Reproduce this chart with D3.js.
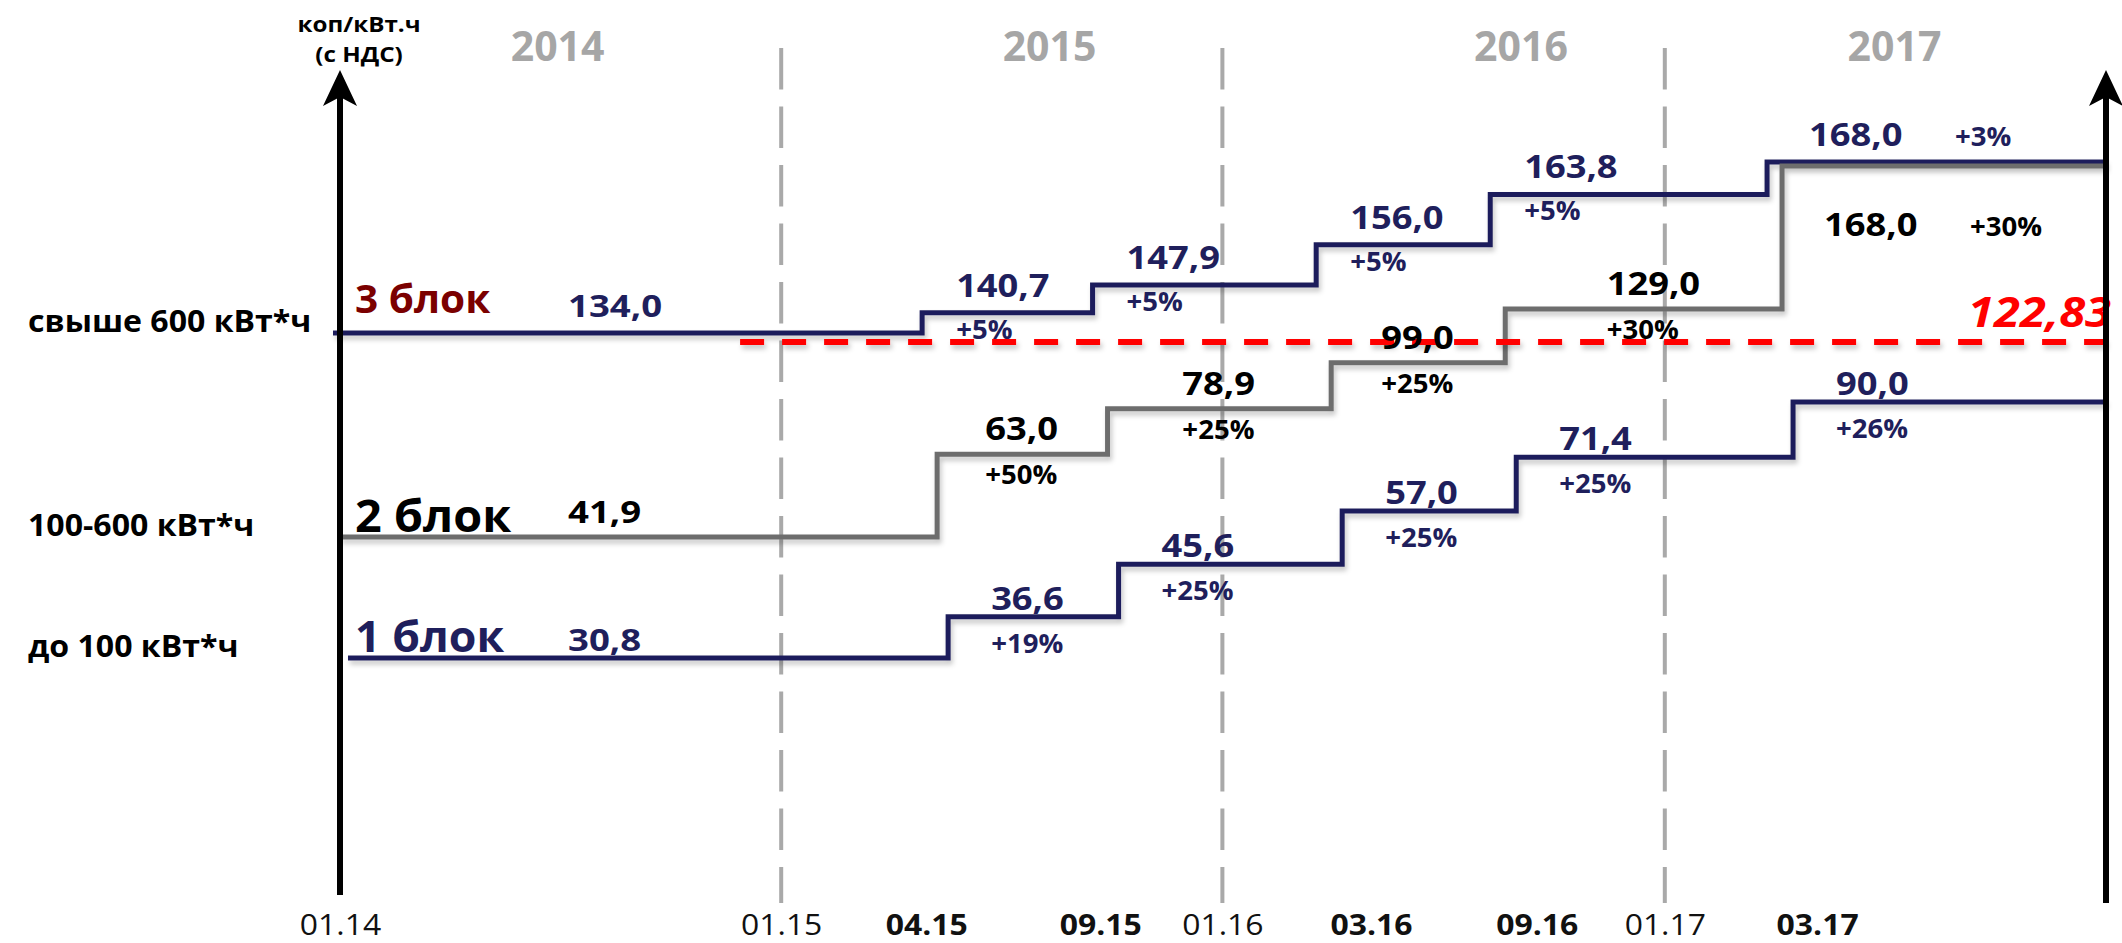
<!DOCTYPE html>
<html>
<head>
<meta charset="utf-8">
<script src="https://cdn.jsdelivr.net/npm/d3@7"></script>
<style>
  body { margin: 0; background: #fff; }
  svg { display: block; }
</style>
</head>
<body>
<svg id="chart" width="2122" height="943"></svg>
<script>
// ---- data ----
const categories = ["до 100 кВт*ч", "100-600 кВт*ч", "свыше 600 кВт*ч"];
const blockNames = ["1 блок", "2 блок", "3 блок"];
const years = ["2014", "2015", "2016", "2017"];
const yearDates = ["2014-06-30", "2015-08-11", "2016-09-04", "2017-07-10"];
const axisDates = ["2014-01-01", "2015-01-01", "2016-01-01", "2017-01-01"];
const gridDates = ["2015-01-01", "2016-01-01", "2017-01-01"];
const changeLabels = ["04.15", "09.15", "03.16", "09.16", "03.17"];
const changeDates = ["2015-05-10", "2015-09-28", "2016-03-31", "2016-08-22", "2017-04-08"];
const changeTickDates = ["2015-05-01", "2015-09-22", "2016-05-03", "2016-09-17", "2017-05-07"];

const block1 = [30.8, 36.6, 45.6, 57.0, 71.4, 90.0];
const block1Pct = ["+19%", "+25%", "+25%", "+25%", "+26%"];
const block2 = [41.9, 63.0, 78.9, 99.0, 129.0, 168.0];
const block2Pct = ["+50%", "+25%", "+25%", "+30%", "+30%"];
const block3 = [134.0, 140.7, 147.9, 156.0, 163.8, 168.0];
const block3Pct = ["+5%", "+5%", "+5%", "+5%", "+3%"];

const socialNorm = 122.83;
const socialNormFrom = "2014-11-28";

// ---- setup ----
const svg = d3.select("#chart").attr("font-family", "'Open Sans', sans-serif");
const parse = d3.timeParse("%Y-%m-%d");
const x = d3.scaleTime().domain([parse("2014-01-01"), parse("2018-01-01")]).range([340, 2106]);
const x0 = x.range()[0], xEnd = x.range()[1];

const ru = d3.formatLocale({decimal: ",", thousands: " ", grouping: [3], currency: ["", ""]});
const f1 = ru.format(".1f"), f2 = ru.format(".2f");

const navy = "#1f1f5c", grey = "#6d6d6d", dashGrey = "#a9a9a9";

// the picture is schematic, every block gets its own vertical scale
const series = [
  {tier: 1, name: blockNames[0], cat: categories[0], values: block1, pct: block1Pct,
   y: d3.scaleLog().domain([block1[0], block1[5]]).range([658, 402]),
   color: navy, text: navy, nameColor: navy, nameSize: 43, nameAbove: 6,
   dx: 11, startDx: 8, mode: "start", labelDx: 43, above: 7, below: 36},
  {tier: 2, name: blockNames[1], cat: categories[1], values: block2, pct: block2Pct,
   y: d3.scaleLog().domain([block2[0], block2[4], block2[5]]).range([537, 309, 166]),
   color: grey, text: "#000", nameColor: "#000", nameSize: 45, nameAbove: 5,
   dx: 0, startDx: 0, mode: "mid", labelDx: -37, above: 14, below: 30},
  {tier: 3, name: blockNames[2], cat: categories[2], values: block3, pct: block3Pct,
   y: d3.scalePow().exponent(6).domain([socialNorm, block3[0], block3[5]]).range([342, 333, 162]),
   color: navy, text: navy, nameColor: "#7b0000", nameSize: 39, nameAbove: 20,
   dx: -15, startDx: -7, mode: "start", labelDx: 34, above: 16, below: 26}
];
const b3 = series[2];

function label(g, px, py, str, size, color, o = {}) {
  return g.append("text")
    .attr("transform", `translate(${px},${py}) scale(${o.sx || 1.1},1)`)
    .attr("text-anchor", o.anchor || "start")
    .attr("font-size", size)
    .attr("font-weight", o.weight || "bold")
    .attr("font-style", o.italic ? "italic" : null)
    .attr("fill", color)
    .text(str);
}

const defs = svg.append("defs");
defs.append("filter").attr("id", "shadow")
  .attr("filterUnits", "userSpaceOnUse").attr("x", 0).attr("y", 0).attr("width", 2122).attr("height", 943)
  .append("feDropShadow").attr("dx", 2).attr("dy", 4).attr("stdDeviation", 2.5)
  .attr("flood-color", "#000").attr("flood-opacity", 0.22);

// dashed year separators
svg.append("g").selectAll("line").data(gridDates.map(parse)).join("line")
  .attr("x1", d => x(d)).attr("x2", d => x(d))
  .attr("y1", 48).attr("y2", 903)
  .attr("stroke", dashGrey).attr("stroke-width", 4).attr("stroke-dasharray", "41.5,17");

// year titles
const yg = svg.append("g");
years.forEach((yr, i) => label(yg, x(parse(yearDates[i])), 61, yr, 41, "#a6a6a6", {anchor: "middle", sx: 1.0}));

// step lines
const line = d3.line().curve(d3.curveStepAfter).x(d => d[0]).y(d => d[1]);
function stepXs(s) {
  return [x0 + s.startDx, ...changeDates.map(d => x(parse(d)) + s.dx), xEnd];
}
[series[0], series[2], series[1]].forEach(s => {
  const xs = stepXs(s);
  const pts = s.values.map((v, i) => [xs[i], s.y(v)]);
  pts.push([xEnd, s.y(s.values[s.values.length - 1])]);
  svg.append("path").attr("d", line(pts))
    .attr("fill", "none").attr("stroke", s.color).attr("stroke-width", 5)
    .attr("stroke-linejoin", "miter").attr("filter", "url(#shadow)");
});

// social norm line
svg.append("line")
  .attr("x1", x(parse(socialNormFrom))).attr("x2", xEnd)
  .attr("y1", b3.y(socialNorm)).attr("y2", b3.y(socialNorm))
  .attr("stroke", "#ff0000").attr("stroke-width", 6).attr("stroke-dasharray", "24,18")
  .attr("filter", "url(#shadow)");
label(svg, xEnd + 5, b3.y(socialNorm) - 15, f2(socialNorm), 42, "#ff0000", {anchor: "end", italic: true, sx: 1.12});

// vertical axes with arrows
[[x0, 895], [xEnd, 903]].forEach(([ax, bottom]) => {
  svg.append("line").attr("x1", ax).attr("x2", ax).attr("y1", bottom).attr("y2", 90)
    .attr("stroke", "#000").attr("stroke-width", 6);
  svg.append("path").attr("transform", `translate(${ax},70)`)
    .attr("d", "M0,0L17,36L0,27L-17,36Z").attr("fill", "#000");
});

label(svg, 359, 32, "коп/кВт.ч", 22, "#000", {anchor: "middle", sx: 1.1});
label(svg, 359, 62, "(с НДС)", 22, "#000", {anchor: "middle", sx: 1.1});

// labels of every block
series.forEach(s => {
  const g = svg.append("g");
  const xs = stepXs(s);
  const n = s.values.length;
  const y0 = s.y(s.values[0]);
  label(g, 28, y0 - 1, s.cat, 30, "#000", {sx: 1.07});
  label(g, x0 + 15, y0 - s.nameAbove, s.name, s.nameSize, s.nameColor, {sx: 1.04});
  s.values.forEach((v, i) => {
    const y = s.y(v);
    if (i === 0) {
      label(g, x0 + 228, y - s.above, f1(v), 31, s.text, {sx: 1.18});
      return;
    }
    const start = xs[i], end = i === n - 1 ? xEnd : xs[i + 1];
    const shared = i === n - 1 && series.some(o => o !== s && o.values[n - 1] === v);
    if (shared) {
      // where two blocks meet, the lower block writes under the line
      const lower = series.some(o => o !== s && o.values[n - 1] === v && o.tier > s.tier);
      const by = lower ? y + 70 : y - s.above;
      label(g, start + 42, by, f1(v), 33, s.text);
      label(g, start + 188, by, s.pct[i - 1], 26, s.text, {sx: 1.06});
      return;
    }
    const left = s.mode === "mid" ? (start + end) / 2 + s.labelDx : start + s.labelDx;
    label(g, left, y - s.above, f1(v), 33, s.text);
    label(g, left, y + s.below, s.pct[i - 1], 26, s.text, {sx: 1.06});
  });
});

// bottom date labels
const axMain = svg.append("g").attr("transform", "translate(0,935)")
  .call(d3.axisBottom(x).tickValues(axisDates.map(parse)).tickFormat(d3.timeFormat("%m.%y")).tickSize(0));
const axChange = svg.append("g").attr("transform", "translate(0,935)")
  .call(d3.axisBottom(x).tickValues(changeTickDates.map(parse)).tickFormat((d, i) => changeLabels[i]).tickSize(0));
[[axMain, "normal"], [axChange, "bold"]].forEach(([ax, w]) => {
  ax.select(".domain").remove();
  ax.attr("font-family", "'Open Sans', sans-serif").attr("font-size", 29);
  ax.selectAll("text").attr("y", 0).attr("dy", 0)
    .attr("font-weight", w).attr("fill", "#111")
    .attr("transform", "scale(1.1,1)");
});
</script>
</body>
</html>
